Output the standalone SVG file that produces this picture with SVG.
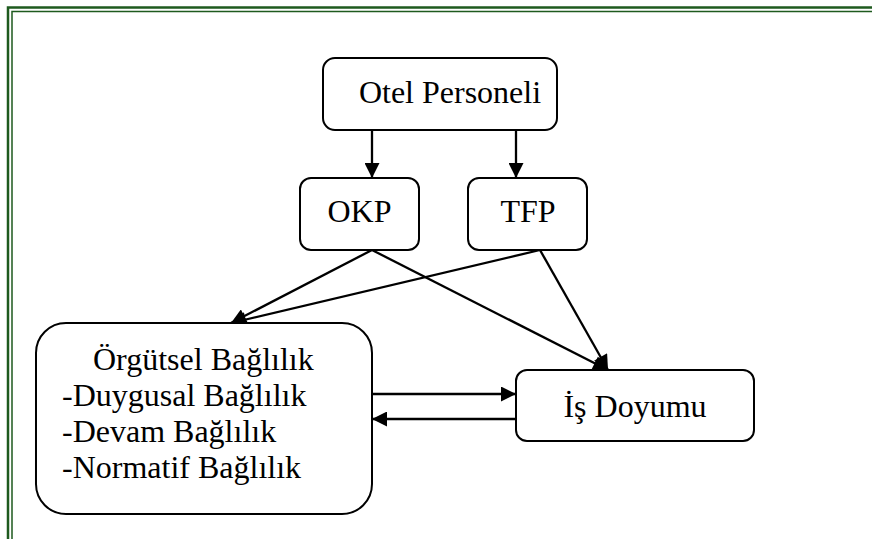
<svg xmlns="http://www.w3.org/2000/svg" width="872" height="539" viewBox="0 0 872 539">
  <style>
    .box { fill: #ffffff; stroke: #000000; stroke-width: 2; }
    .lbl { font-family: "Liberation Serif", "Times New Roman", serif; font-size: 32px; fill: #000000; }
    .mid { text-anchor: middle; }
    .edge { stroke: #000000; stroke-width: 2.3; fill: none; marker-end: url(#arrow); }
    .frame { stroke: #1e5a1e; fill: none; }
  </style>
  <defs>
    <marker id="arrow" viewBox="0 0 10 10" refX="10" refY="5" markerUnits="userSpaceOnUse" markerWidth="16" markerHeight="15" orient="auto">
      <path d="M0,0 L10,5 L0,10 Z" fill="#000000"/>
    </marker>
  </defs>
  <rect width="872" height="539" fill="#ffffff"/>
  <g id="frame">
    <path class="frame" d="M8,539 V7.5 H872" stroke-width="2.5"/>
    <path class="frame" d="M12,539 V11.5 H872" stroke-width="1.5"/>
  </g>
  <g id="connectors">
    <line class="edge" x1="372" y1="130" x2="372" y2="178"/>
    <line class="edge" x1="516" y1="130" x2="516" y2="178"/>
    <line class="edge" x1="372" y1="250" x2="231" y2="323"/>
    <line class="edge" x1="540" y1="250" x2="231" y2="323"/>
    <line class="edge" x1="372" y1="250" x2="608" y2="370"/>
    <line class="edge" x1="540" y1="250" x2="608" y2="370"/>
    <line class="edge" x1="372" y1="394" x2="516" y2="394"/>
    <line class="edge" x1="516" y1="419" x2="372" y2="419"/>
  </g>
  <g id="otel-personeli">
    <rect class="box" x="323" y="58" width="234" height="72" rx="12"/>
    <text class="lbl mid" x="450" y="103">Otel Personeli</text>
  </g>
  <g id="okp">
    <rect class="box" x="300" y="178" width="119" height="72" rx="11"/>
    <text class="lbl mid" x="359.5" y="222">OKP</text>
  </g>
  <g id="tfp">
    <rect class="box" x="468" y="178" width="119" height="72" rx="11"/>
    <text class="lbl mid" x="528" y="222">TFP</text>
  </g>
  <g id="orgutsel-baglilik">
    <rect class="box" x="36" y="323" width="336" height="191" rx="30"/>
    <text class="lbl" x="93" y="370">Örgütsel Bağlılık</text>
    <text class="lbl" x="62" y="406">-Duygusal Bağlılık</text>
    <text class="lbl" x="62" y="442">-Devam Bağlılık</text>
    <text class="lbl" x="62" y="478">-Normatif Bağlılık</text>
  </g>
  <g id="is-doyumu">
    <rect class="box" x="516" y="370" width="238" height="71" rx="11"/>
    <text class="lbl mid" x="635" y="417">İş Doyumu</text>
  </g>
</svg>
